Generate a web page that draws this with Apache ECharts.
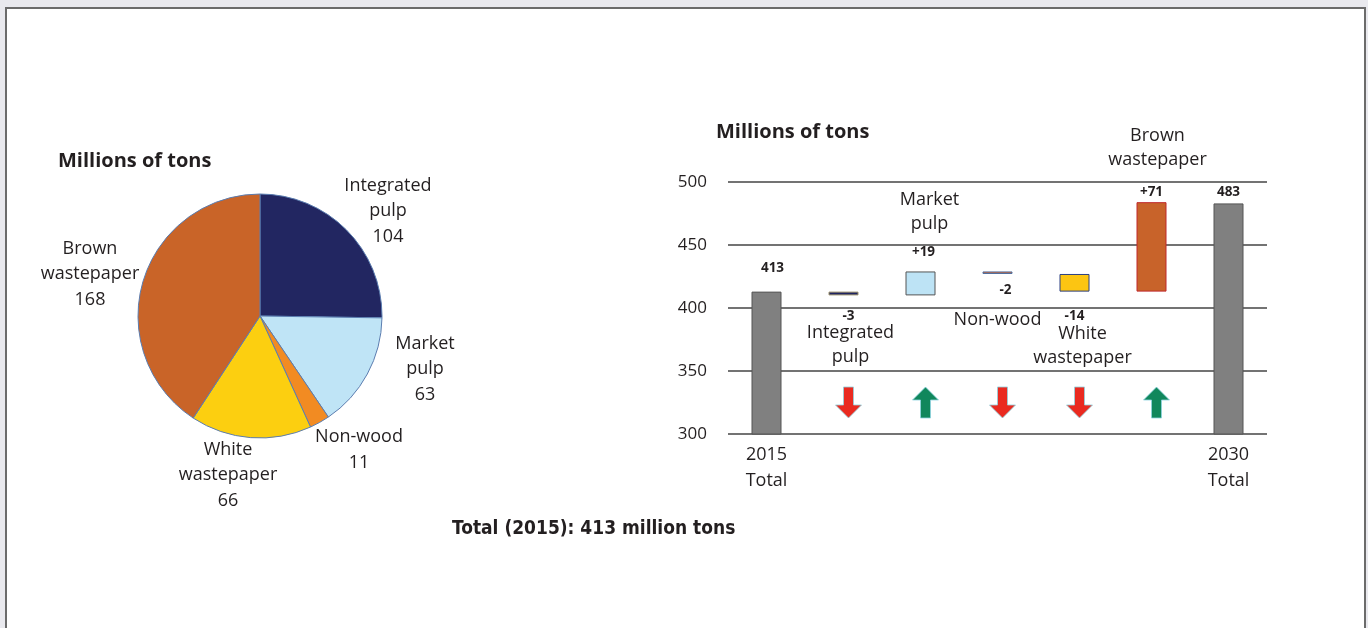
<!DOCTYPE html>
<html><head><meta charset="utf-8">
<script src="https://cdn.jsdelivr.net/npm/echarts@6/dist/echarts.min.js"></script>
<style>html,body{margin:0;padding:0;background:#e9e9ee}#c{width:1368px;height:628px}</style>
</head><body><div id="c"></div>
<script>
// ---------- DATA ----------
const pieNames = ['Integrated pulp', 'Market pulp', 'Non-wood', 'White wastepaper', 'Brown wastepaper'];
const pieValues = [104, 63, 11, 66, 168];
const wfCategories = ['2015 Total', 'Integrated pulp', 'Market pulp', 'Non-wood', 'White wastepaper', 'Brown wastepaper', '2030 Total'];
const wfValues = [413, -3, 19, -2, -14, 71, 483];
const wfIsTotal = [true, false, false, false, false, false, true];
const yTicks = [300, 350, 400, 450, 500];

// ---------- STYLE ----------
const FONT = '"Open Sans", "Noto Sans", sans-serif';
const TXT = '#231f20';
const pieColors = ['#222661', '#bfe4f6', '#f28b22', '#fccf10', '#c96428'];
const wfColors = ['#808080', '#1f2461', '#bde3f5', '#e0652a', '#fcc512', '#c8632a', '#808080'];
const wfBorders = ['#555555', '#9a8f6a', '#555555', '#4d6fa0', '#2b3f82', '#c0282a', '#555555'];
const pieCenter = [260, 316];
const pieLabelOffset = [[128, -105], [165, 53], [99, 134], [-32, 159], [-170, -42]];
const wfLabelStyle = [
  {pos: 'top', dist: 16.5, dx: 6},
  {pos: 'bottom', dist: 16, dx: 7, vH: 9, vPad: [0, 4, 0, 0]},
  {pos: 'top', dist: 12.5, dx: 9, vPad: [9.5, 12, 0, 0]},
  {pos: 'bottom', dist: 9.5, dx: 0, vPad: [0, 0, 10.5, 16]},
  {pos: 'bottom', dist: 20, dx: 8, vH: 10, vPad: [0, 16, 0, 0]},
  {pos: 'top', dist: 3.5, dx: 6, vPad: [12.5, 12, 0, 0]},
  {pos: 'top', dist: 4.5, dx: 0}
];
const arrowLevel = 325;
const DOWN = 'path://M8,0 L18,0 L18,18 L26,18 L13,31 L0,18 L8,18 Z';
const UP = 'path://M13,0 L26,13 L18,13 L18,31 L8,31 L8,13 L0,13 Z';

// ---------- BUILD ----------
let running = 0;
const baseVals = [], deltaVals = [];
wfValues.forEach((v, i) => {
  if (wfIsTotal[i]) { baseVals.push(0); deltaVals.push(v); running = v; }
  else { const s = running, e = running + v; baseVals.push(Math.min(s, e)); deltaVals.push(Math.abs(v)); running = e; }
});

const deltaData = deltaVals.map((h, i) => {
  const st = wfLabelStyle[i];
  const v = wfValues[i];
  const vt = wfIsTotal[i] ? String(v) : (v > 0 ? '+' + v : String(v));
  const nameLines = wfIsTotal[i] ? [] : wfCategories[i].split(' ').map(s => '{n|' + s + '}');
  const valLine = '{v|' + vt + '}';
  const text = st.pos === 'top' ? nameLines.concat([valLine]).join('\n') : [valLine].concat(nameLines).join('\n');
  const vStyle = {fontFamily: FONT, fontSize: 13.5, fontWeight: 'bold', color: TXT, padding: st.vPad || 0};
  if (st.vH) vStyle.lineHeight = st.vH;
  return {
    value: h,
    itemStyle: {color: wfColors[i], borderColor: wfBorders[i], borderWidth: 1},
    label: {
      show: true, position: st.pos, distance: st.dist, offset: [st.dx, 0], formatter: text,
      rich: {v: vStyle, n: {fontFamily: FONT, fontSize: 18, color: TXT, lineHeight: 24}}
    }
  };
});

const arrowData = [];
wfValues.forEach((v, i) => {
  if (!wfIsTotal[i]) arrowData.push({
    value: [i, arrowLevel], symbol: v > 0 ? UP : DOWN,
    itemStyle: {color: v > 0 ? '#11875c' : '#ea2a20'}
  });
});

const chart = echarts.init(document.getElementById('c'));
chart.setOption({
  animation: false,
  backgroundColor: '#e9e9ee',
  graphic: [{
    type: 'rect', z: -10, silent: true,
    shape: {x: 6, y: 8, width: 1359, height: 700},
    style: {fill: '#ffffff', stroke: '#6b6b6b', lineWidth: 2}
  }],
  title: [
    {text: 'Millions of tons', left: 58, top: 149, padding: 0,
     textStyle: {fontFamily: FONT, fontSize: 20, fontWeight: 'bold', color: TXT, lineHeight: 24}},
    {text: 'Millions of tons', left: 716, top: 120, padding: 0,
     textStyle: {fontFamily: FONT, fontSize: 20, fontWeight: 'bold', color: TXT, lineHeight: 24}},
    {text: 'Total (2015): ' + wfValues[0] + ' million tons', left: 452, top: 517, padding: 0,
     textStyle: {fontFamily: '"Liberation Sans Narrow", "DejaVu Sans Condensed", sans-serif', fontSize: 19, fontWeight: 'bold', color: TXT, lineHeight: 24}}
  ],
  grid: [{left: 728, top: 182, width: 539, height: 252}],
  xAxis: [{
    type: 'category', data: wfCategories,
    axisLine: {show: false}, axisTick: {show: false},
    axisLabel: {interval: 0, margin: 8, fontFamily: FONT, fontSize: 18, lineHeight: 26, color: TXT,
      formatter: (val, i) => wfIsTotal[i] ? val.replace(' ', '\n') : ''}
  }],
  yAxis: [{
    type: 'value', min: yTicks[0], max: yTicks[yTicks.length - 1], interval: yTicks[1] - yTicks[0],
    axisLine: {show: false}, axisTick: {show: false},
    axisLabel: {margin: 21, fontFamily: FONT, fontSize: 17, color: TXT},
    splitLine: {lineStyle: {color: '#444', width: 1.5}}
  }],
  series: [
    {
      type: 'pie', center: pieCenter, radius: 122, startAngle: 90, clockwise: true,
      avoidLabelOverlap: false, silent: true,
      data: pieNames.map((n, i) => ({name: n, value: pieValues[i], itemStyle: {color: pieColors[i]}})),
      itemStyle: {borderColor: '#5b7db0', borderWidth: 1},
      label: {show: true, position: 'outside', fontFamily: FONT, fontSize: 18, lineHeight: 25.5, color: TXT, align: 'center',
        formatter: p => p.name.replace(' ', '\n') + '\n' + p.value},
      labelLine: {show: false},
      labelLayout: p => ({x: pieCenter[0] + pieLabelOffset[p.dataIndex][0], y: pieCenter[1] + pieLabelOffset[p.dataIndex][1], align: 'center', verticalAlign: 'middle'})
    },
    {type: 'bar', stack: 'wf', data: baseVals, barWidth: 30, silent: true, itemStyle: {color: 'rgba(0,0,0,0)'}},
    {type: 'bar', stack: 'wf', data: deltaData, barWidth: 30, silent: true},
    {type: 'scatter', data: arrowData, symbolSize: [26, 31], symbolOffset: [5, 0], silent: true,
     itemStyle: {borderColor: '#8fd3e0', borderWidth: 0.8, opacity: 1}}
  ]
});
</script></body></html>
